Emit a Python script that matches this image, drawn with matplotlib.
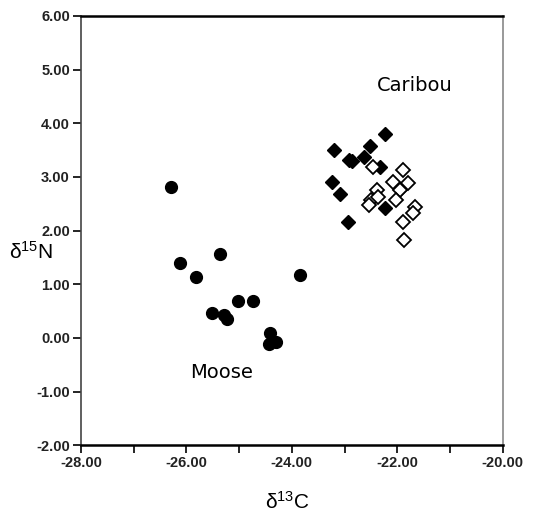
import matplotlib
matplotlib.use('Agg')
import matplotlib.pyplot as plt

plt.rcParams['mathtext.default'] = 'regular'
plt.rcParams['font.family'] = ['Liberation Sans', 'DejaVu Sans']

# moose (filled circles)
moose_c = [-26.30, -26.12, -25.82, -25.37, -25.03, -24.73, -25.51, -25.28, -25.24,
           -24.42, -24.43, -24.30, -23.85]
moose_n = [2.81, 1.39, 1.14, 1.57, 0.68, 0.68, 0.46, 0.43, 0.36,
           0.10, -0.12, -0.08, 1.17]

# caribou, filled diamonds
car1_c = [-23.20, -22.24, -22.51, -22.64, -22.91, -22.85, -22.33, -23.23, -23.08,
          -22.24, -22.93, -21.95]
car1_n = [3.51, 3.81, 3.57, 3.38, 3.31, 3.29, 3.18, 2.91, 2.69,
          2.43, 2.16, 2.78]

# caribou, open diamonds
car2_c = [-22.46, -21.89, -21.80, -22.09, -21.95, -22.02, -22.39, -22.49, -22.53,
          -22.36, -21.67, -21.71, -21.90, -21.88]
car2_n = [3.19, 3.13, 2.88, 2.91, 2.75, 2.57, 2.75, 2.57, 2.47,
          2.63, 2.44, 2.32, 2.16, 1.83]

xt = [-28, -26, -24, -22, -20]
yt = [-2, -1, 0, 1, 2, 3, 4, 5, 6]

fig = plt.figure(figsize=(5.40, 5.16), dpi=100)
ax = fig.add_axes([0.150, 0.137, 0.781, 0.832])

ax.plot(moose_c, moose_n, 'o', color='black', markersize=8.5, linestyle='none')
ax.plot(car1_c, car1_n, 'D', color='black', markersize=7.5, linestyle='none')
ax.plot(car2_c, car2_n, 'D', markerfacecolor='white', markeredgecolor='black',
        markeredgewidth=1.3, markersize=7.5, linestyle='none')

ax.set_xlim(-28, -20)
ax.set_ylim(-2, 6)
ax.set_xticks(xt)
ax.set_xticks([-27, -25, -23, -21], minor=True)
ax.set_yticks(yt)
ax.set_xticklabels(['%.2f' % v for v in xt], fontweight='bold', color='#222222')
ax.set_yticklabels(['%.2f' % v for v in yt], fontweight='bold', color='#222222')
ax.tick_params(axis='both', labelsize=10.5, direction='out', length=6, width=1.2, pad=2)
ax.tick_params(axis='x', which='minor', direction='out', length=6, width=1.2)

ax.spines['top'].set_linewidth(1.8)
ax.spines['bottom'].set_linewidth(1.8)
ax.spines['left'].set_linewidth(1.2)
ax.spines['right'].set_linewidth(1.2)
ax.spines['right'].set_color('#888888')
ax.spines['left'].set_color('#444444')

ax.text(-21.67, 4.71, 'Caribou', fontsize=14, ha='center', va='center', family='DejaVu Sans')
ax.text(-25.33, -0.64, 'Moose', fontsize=14, ha='center', va='center', family='DejaVu Sans')

fig.text(287 / 540, 1 - 502 / 516, r'$\delta^{13}$C', fontsize=15, ha='center', va='center')
fig.text(31 / 540, 1 - 252 / 516, r'$\delta^{15}$N', fontsize=15, ha='center', va='center')

fig.savefig('out.png', dpi=100)
